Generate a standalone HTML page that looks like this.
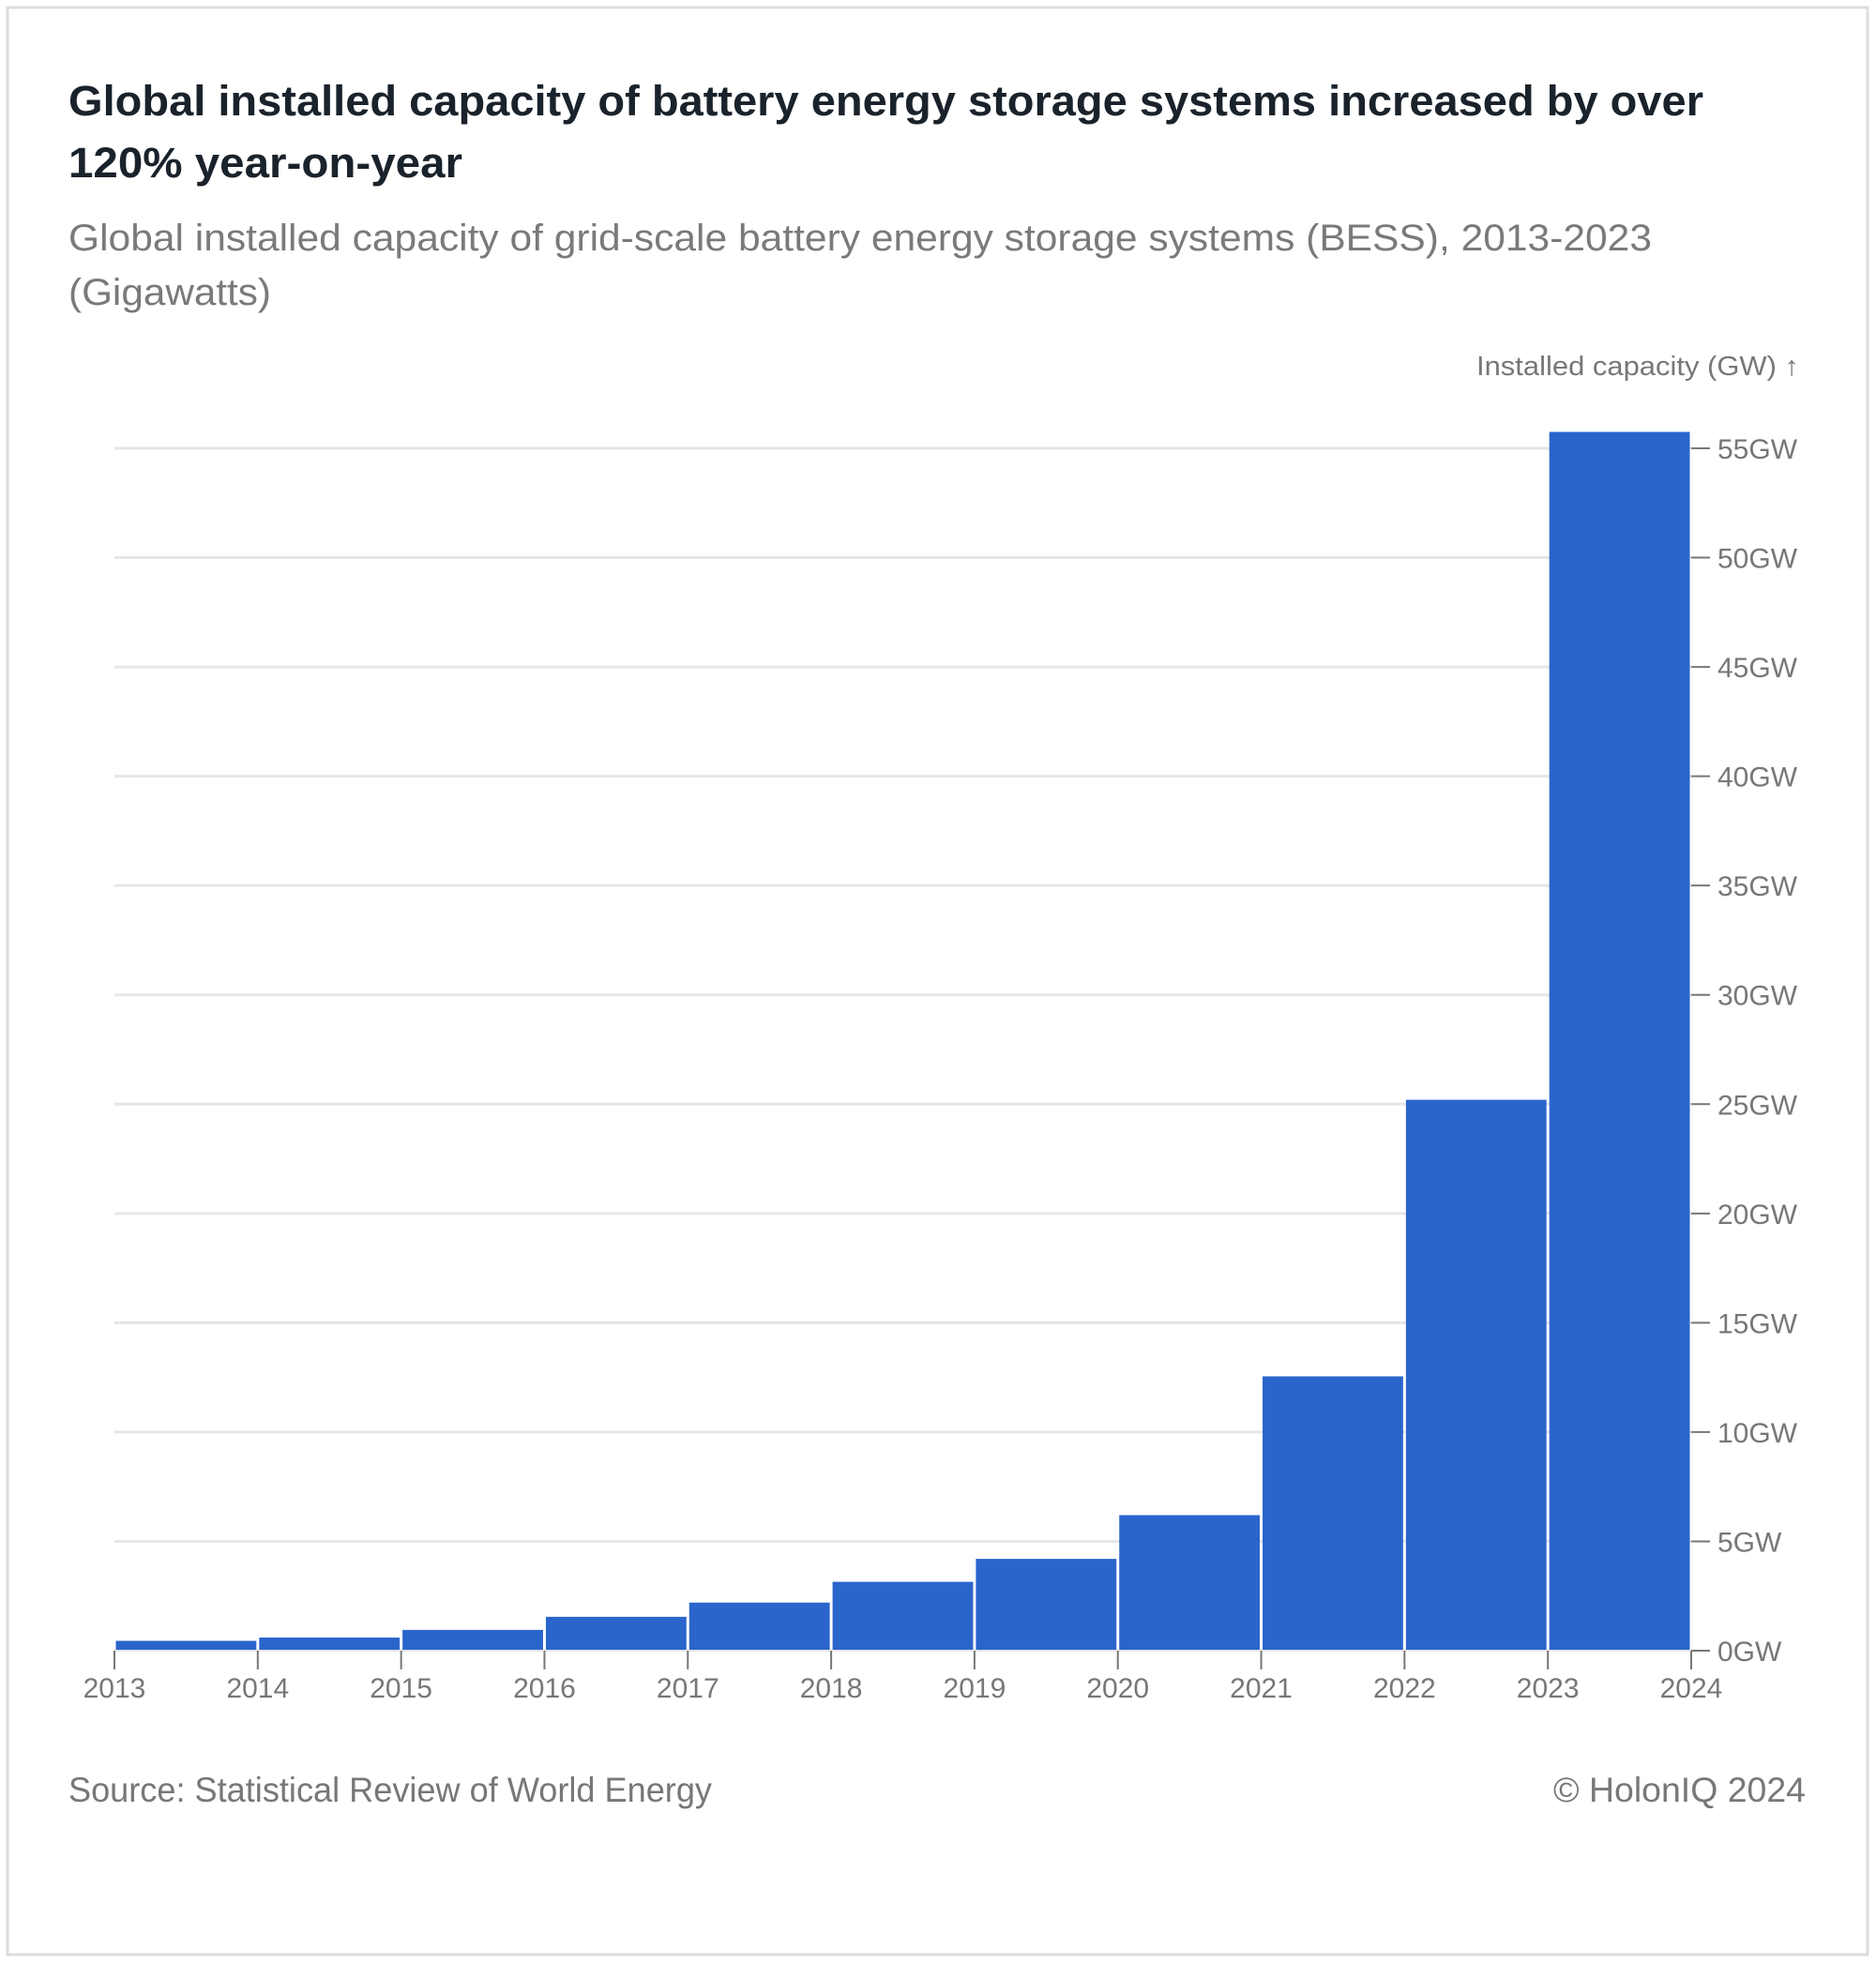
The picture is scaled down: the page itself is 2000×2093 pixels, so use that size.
<!DOCTYPE html>
<html><head><meta charset="utf-8"><style>
html,body{margin:0;padding:0;background:#fff;}
svg{display:block;font-family:"Liberation Sans",sans-serif;}
</style></head><body>
<svg id="chart" width="2000" height="2093" viewBox="0 0 2000 2093" xmlns="http://www.w3.org/2000/svg">
<rect x="8" y="8" width="1983" height="2076" fill="#fff" stroke="#dcdcdc" stroke-width="3"/>
<text x="73" y="123" font-size="45" font-weight="bold" fill="#1a222b" textLength="1743" lengthAdjust="spacingAndGlyphs">Global installed capacity of battery energy storage systems increased by over</text>
<text x="73" y="189" font-size="45" font-weight="bold" fill="#1a222b" textLength="420" lengthAdjust="spacingAndGlyphs">120% year-on-year</text>
<text x="73" y="267" font-size="40" fill="#7a7a7a" textLength="1688" lengthAdjust="spacingAndGlyphs">Global installed capacity of grid-scale battery energy storage systems (BESS), 2013-2023</text>
<text x="73" y="325" font-size="40" fill="#7a7a7a" textLength="216" lengthAdjust="spacingAndGlyphs">(Gigawatts)</text>
<text x="1918" y="400" font-size="29" fill="#777" text-anchor="end" textLength="344" lengthAdjust="spacingAndGlyphs">Installed capacity (GW) ↑</text>
<g id="grid"></g>
<g id="bars"></g>
<g id="yaxis"></g>
<g id="xaxis"></g>
<text x="73" y="1921" font-size="37" fill="#777" textLength="686" lengthAdjust="spacingAndGlyphs">Source: Statistical Review of World Energy</text>
<text x="1925" y="1921" font-size="37" fill="#777" text-anchor="end" textLength="269" lengthAdjust="spacingAndGlyphs">© HolonIQ 2024</text>
</svg>
<script>
const years = [2013,2014,2015,2016,2017,2018,2019,2020,2021,2022,2023];
const capacityGW = [0.45,0.6,0.95,1.55,2.2,3.15,4.2,6.2,12.55,25.2,55.75];
const yTicks = [0,5,10,15,20,25,30,35,40,45,50,55];
const xTickLabels = ["2013","2014","2015","2016","2017","2018","2019","2020","2021","2022","2023","2024"];

const NS = "http://www.w3.org/2000/svg";
const x0 = 122, x1 = 1803, yBase = 1760, yTop = 478;
const xMin = 2013, xMax = 2024, yMax = 55;
function xScale(v){ return x0 + (v - xMin) / (xMax - xMin) * (x1 - x0); }
function yScale(v){ return yBase - v / yMax * (yBase - yTop); }
function mk(tag, attrs){ const e = document.createElementNS(NS, tag); for (const k in attrs) e.setAttribute(k, attrs[k]); return e; }

const grid = document.getElementById('grid');
const yaxis = document.getElementById('yaxis');
yTicks.forEach(t => {
  const y = yScale(t);
  if (t > 0) {
    const g = mk('line', {x1: x0, x2: x1, y1: y, y2: y, stroke: '#e6e6e6', 'stroke-width': 3});
    
    
    grid.appendChild(g);
  }
  const tk = mk('line', {x1: x1, x2: x1 + 20, y1: y, y2: y, stroke: '#777', 'stroke-width': 2});
  
  
  yaxis.appendChild(tk);
  const lb = mk('text', {x: x1 + 28, y: y + 11, 'font-size': 30, fill: '#777'});
  
  
  lb.textContent = t + 'GW';
  yaxis.appendChild(lb);
});

const bars = document.getElementById('bars');
years.forEach((yr, i) => {
  const xa = xScale(yr), xb = xScale(yr + 1), y = yScale(capacityGW[i]);
  const r = mk('rect', {x: xa + 1.5, y: y, width: xb - xa - 3, height: yBase - y, fill: '#2a65cc'});
  
  
  bars.appendChild(r);
});

const xaxis = document.getElementById('xaxis');
const base = mk('line', {x1: x0, x2: x1, y1: yBase, y2: yBase, stroke: '#e6e6e6', 'stroke-width': 2});


xaxis.appendChild(base);
xTickLabels.forEach(lbl => {
  const x = xScale(+lbl);
  const tk = mk('line', {x1: x, x2: x, y1: yBase, y2: yBase + 20, stroke: '#777', 'stroke-width': 2});
  
  
  xaxis.appendChild(tk);
  const t = mk('text', {x: x, y: 1810, 'font-size': 30, fill: '#777', 'text-anchor': 'middle'});
  
  
  t.textContent = lbl;
  xaxis.appendChild(t);
});
</script>
</body></html>
